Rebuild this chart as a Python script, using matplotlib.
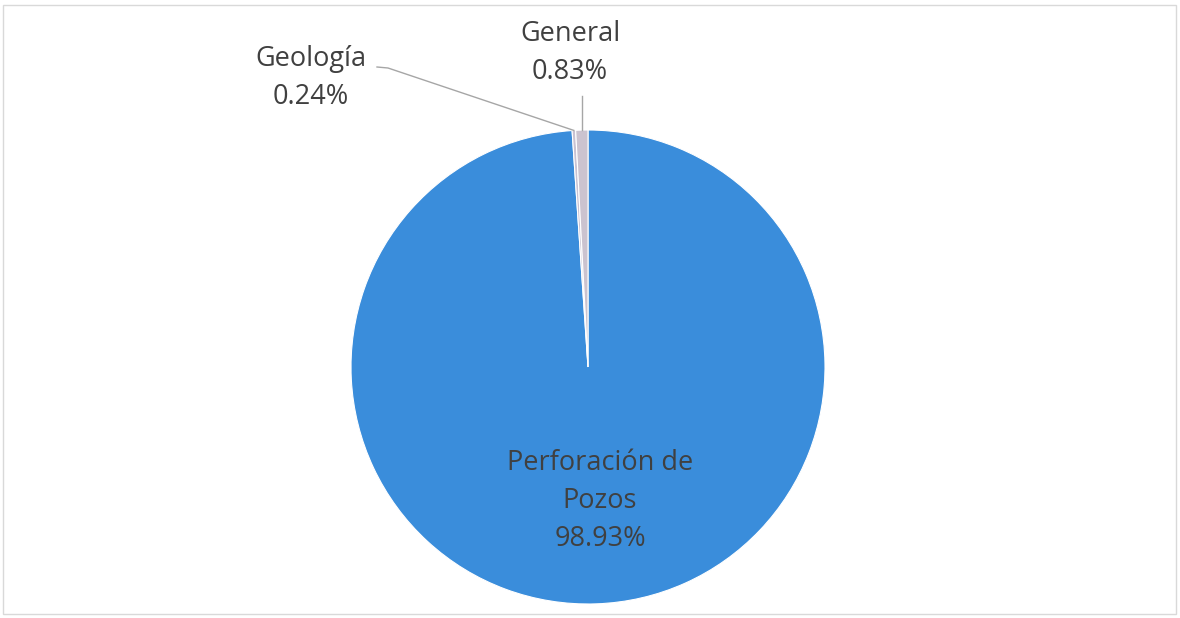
import numpy as np
import matplotlib
matplotlib.use("Agg")
import matplotlib.pyplot as plt
from matplotlib.patches import Rectangle

categories = ["Perforación de\nPozos", "Geología", "General"]
values = [98.93, 0.24, 0.83]
colors = ["#3a8ddb", "#c8c2d2", "#cbc3cf"]

plt.rcParams['font.family'] = ['Open Sans', 'DejaVu Sans']
W, H = 1180, 618
fig = plt.figure(figsize=(W/100, H/100), dpi=100)
ax = fig.add_axes([0, 0, 1, 1])

cx, cy, R = 588, H - 367, 237
wedges, _ = ax.pie(values, colors=colors, startangle=90, counterclock=False,
                   center=(cx, cy), radius=R, frame=True,
                   wedgeprops=dict(edgecolor='white', linewidth=0.8))
ax.set_xlim(0, W)
ax.set_ylim(0, H)
ax.set_aspect('equal')
ax.axis('off')

tc = "#404040"
fs = 19.5
ls = 1.5
# Main label
ax.text(cx + 12, H - 501, f"{categories[0]}\n{values[0]:.2f}%", ha='center', va='center',
        fontsize=fs, color=tc, linespacing=ls)

def edge_point(w):
    ang = np.deg2rad((w.theta1 + w.theta2) / 2)
    return cx + R * np.cos(ang), cy + R * np.sin(ang)

# Geología
gx, gy = edge_point(wedges[1])
ax.text(311, H - 78, f"{categories[1]}\n{values[1]:.2f}%", ha='center', va='center',
        fontsize=fs, color=tc, linespacing=ls)
ax.plot([377, 388, gx], [H - 67, H - 68, gy], color="#a6a6a6", lw=1.0)

# General
nx, ny = edge_point(wedges[2])
ax.text(570, H - 53, f"{categories[2]}\n{values[2]:.2f}%", ha='center', va='center',
        fontsize=fs, color=tc, linespacing=ls)
ax.plot([nx, nx], [H - 96, ny], color="#a6a6a6", lw=1.0)

# outer frame
ax.add_patch(Rectangle((3, 4), W - 7, H - 9, fill=False, edgecolor="#d9d9d9", lw=1))

fig.savefig("out.png", dpi=100)
